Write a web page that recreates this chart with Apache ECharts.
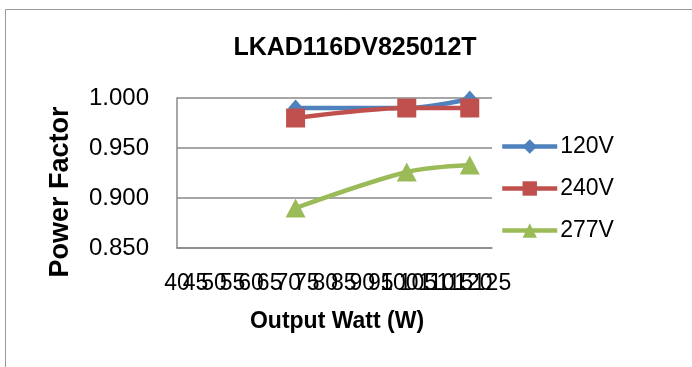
<!DOCTYPE html>
<html>
<head>
<meta charset="utf-8">
<script src="https://cdn.jsdelivr.net/npm/echarts@6/dist/echarts.min.js"></script>
<style>html,body{margin:0;padding:0;background:#fff}#c{width:692px;height:367px}</style>
</head>
<body>
<div id="c"></div>
<script>
const chartTitle = 'LKAD116DV825012T';
const xTitle = 'Output Watt (W)';
const yTitle = 'Power Factor';
const seriesNames = ['120V', '240V', '277V'];
const watts = [72, 102, 119];
const pf120 = [0.990, 0.990, 0.999];
const pf240 = [0.980, 0.990, 0.990];
const pf277 = [0.890, 0.926, 0.933];
// x tick labels (40..125 step 5), split into groups so the overlapping labels are all drawn
const xTickGroups = [
  [40, 60, 80, 100, 120],
  [45, 65, 85, 105, 125],
  [50, 70, 90, 110],
  [55, 75, 95, 115]
];
const xMin = 40, xMax = 125, xStep = 5;
const yMin = 0.85, yMax = 1.0, yStep = 0.05;

const FONT = 'Liberation Sans';
const colors = ['#4F81BD', '#C0504D', '#9BBB59'];
const symbols = ['diamond', 'rect', 'triangle'];
const symSizes = [[15, 17], 19, [20, 19]];
const values = [pf120, pf240, pf277];

const xAxes = xTickGroups.map((grp, k) => ({
  type: 'value', min: xMin, max: xMax, interval: xStep, position: 'bottom', offset: 0,
  axisLine: { show: k === 0, onZero: false, lineStyle: { color: '#888', width: 1.5 } },
  axisTick: { show: false },
  splitLine: { show: false },
  axisLabel: { customValues: grp, fontFamily: FONT, fontSize: 23, color: '#000', margin: 24, hideOverlap: false }
}));

const chart = echarts.init(document.getElementById('c'));
chart.setOption({
  animation: false,
  backgroundColor: '#fff',
  graphic: [
    { type: 'rect', shape: { x: 5.5, y: 9.5, width: 720, height: 420 }, style: { fill: 'none', stroke: '#999', lineWidth: 1 }, z: -1 },
    { type: 'text', x: 355, y: 48, style: { text: chartTitle, font: 'bold 25px "' + FONT + '"', fill: '#000', textAlign: 'center', textVerticalAlign: 'middle' } },
    { type: 'text', x: 337, y: 322, style: { text: xTitle, font: 'bold 23px "' + FONT + '"', fill: '#000', textAlign: 'center', textVerticalAlign: 'middle' } },
    { type: 'text', x: 61, y: 192, rotation: Math.PI / 2, style: { text: yTitle, font: 'bold 27px "' + FONT + '"', fill: '#000', textAlign: 'center', textVerticalAlign: 'middle' } }
  ],
  grid: { left: 177, right: 200, top: 98, bottom: 119, containLabel: false },
  legend: {
    orient: 'vertical', left: 495, top: 130, itemWidth: 55, itemHeight: 18, itemGap: 19,
    textStyle: { fontFamily: FONT, fontSize: 23, color: '#000', padding: [0, 0, 0, -2] },
    lineStyle: { width: 4.5 },
    data: seriesNames
  },
  xAxis: xAxes,
  yAxis: {
    type: 'value', min: yMin, max: yMax, interval: yStep,
    axisLine: { show: true, lineStyle: { color: '#888', width: 1.5 } },
    axisTick: { show: false },
    splitLine: { show: true, lineStyle: { color: '#888', width: 1.5 } },
    axisLabel: { fontFamily: FONT, fontSize: 24, color: '#000', margin: 28, formatter: v => v.toFixed(3) }
  },
  series: seriesNames.map((n, i) => ({
    name: n, type: 'line', smooth: 0.3, xAxisIndex: 0,
    data: watts.map((w, j) => [w, values[i][j]]),
    symbol: symbols[i], symbolSize: symSizes[i], showSymbol: true,
    itemStyle: { color: colors[i] },
    lineStyle: { color: colors[i], width: 4.5 },
    z: 2 + i
  }))
});
</script>
</body>
</html>
